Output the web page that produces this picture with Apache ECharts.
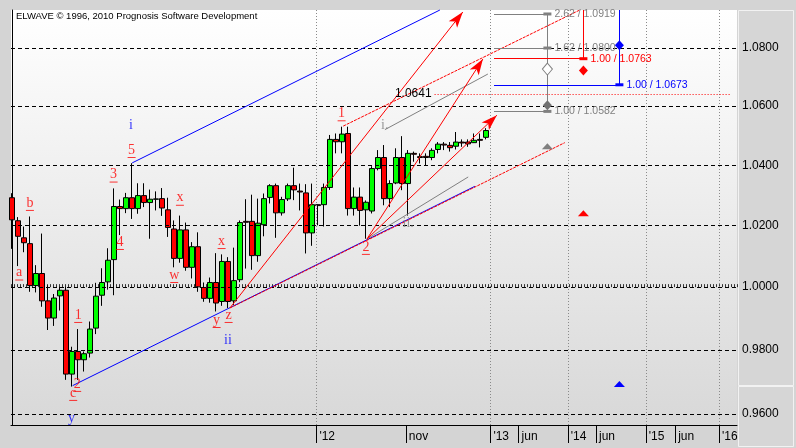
<!DOCTYPE html>
<html><head><meta charset="utf-8">
<script src="https://cdn.jsdelivr.net/npm/echarts@6/dist/echarts.min.js"></script>
<style>html,body{margin:0;padding:0;background:#d4d4d4}#c{width:796px;height:448px}</style>
</head><body><div id="c"></div>
<script>
// ---------- DATA ----------
const candleOpen  = [1.0292,1.0216,1.0160,1.0141,1.0005,1.0044,0.9956,0.9901,0.9972,0.9990,0.9724,0.9795,0.9769,0.9790,0.9869,0.9974,1.0017,1.0089,1.0263,1.0256,1.0292,1.0256,1.0299,1.0276,1.0287,1.0289,1.0252,1.0189,1.0093,1.0186,1.0064,1.0131,0.9999,0.9964,1.0015,0.9954,1.0083,0.9956,1.0024,1.0214,1.0214,1.0102,1.0203,1.0293,1.0332,1.0242,1.0288,1.0332,1.0314,1.0308,1.0176,1.0269,1.0269,1.0326,1.0487,1.0479,1.0507,1.0256,1.0294,1.0252,1.0248,1.0389,1.0426,1.0289,1.0341,1.0426,1.0339,1.0440,1.0429,1.0430,1.0426,1.0453,1.0471,1.0467,1.0464,1.0478,1.0478,1.0476,1.0487,1.0494];
const candleHigh  = [1.0307,1.0228,1.0197,1.0230,1.0071,1.0174,1.0006,0.9978,1.0001,1.0001,0.9810,0.9866,0.9795,0.9890,1.0014,1.0061,1.0126,1.0323,1.0286,1.0308,1.0407,1.0340,1.0340,1.0319,1.0313,1.0324,1.0292,1.0217,1.0233,1.0210,1.0146,1.0178,1.0015,1.0031,1.0110,1.0106,1.0097,1.0128,1.0217,1.0287,1.0302,1.0289,1.0306,1.0337,1.0339,1.0295,1.0339,1.0392,1.0339,1.0337,1.0339,1.0270,1.0339,1.0502,1.0507,1.0530,1.0530,1.0326,1.0326,1.0283,1.0397,1.0451,1.0468,1.0350,1.0457,1.0498,1.0451,1.0446,1.0440,1.0440,1.0457,1.0478,1.0478,1.0478,1.0512,1.0487,1.0487,1.0507,1.0507,1.0525];
const candleLow   = [1.0124,1.0068,1.0113,0.9985,0.9983,0.9937,0.9863,0.9876,0.9925,0.9706,0.9685,0.9706,0.9732,0.9776,0.9850,0.9940,0.9992,0.9974,1.0169,1.0241,1.0222,1.0239,1.0261,1.0157,1.0250,1.0232,1.0163,1.0064,1.0079,1.0053,1.0028,0.9985,0.9953,0.9950,0.9922,0.9940,0.9933,0.9943,1.0016,1.0060,1.0056,1.0082,1.0165,1.0273,1.0160,1.0233,1.0281,1.0284,1.0250,1.0109,1.0134,1.0201,1.0197,1.0318,1.0440,1.0440,1.0233,1.0233,1.0200,1.0157,1.0240,1.0383,1.0267,1.0261,1.0337,1.0317,1.0233,1.0412,1.0406,1.0400,1.0417,1.0440,1.0451,1.0446,1.0453,1.0462,1.0462,1.0475,1.0460,1.0487];
const candleClose = [1.0219,1.0165,1.0144,1.0005,1.0044,0.9956,0.9901,0.9965,0.9990,0.9724,0.9795,0.9769,0.9788,0.9866,0.9971,1.0015,1.0087,1.0263,1.0256,1.0292,1.0256,1.0299,1.0276,1.0287,1.0288,1.0258,1.0194,1.0093,1.0186,1.0064,1.0131,1.0001,0.9964,1.0015,0.9949,1.0083,0.9954,1.0021,1.0210,1.0211,1.0102,1.0208,1.0289,1.0332,1.0242,1.0286,1.0332,1.0318,1.0311,1.0176,1.0269,1.0266,1.0326,1.0487,1.0479,1.0505,1.0256,1.0294,1.0250,1.0277,1.0389,1.0426,1.0289,1.0339,1.0426,1.0339,1.0440,1.0437,1.0426,1.0426,1.0450,1.0471,1.0468,1.0459,1.0478,1.0475,1.0472,1.0484,1.0484,1.0517];

const priceTicks = [0.96, 0.98, 1.00, 1.02, 1.04, 1.06, 1.08];
const xLabelPos  = [50.7, 65.6, 79.7, 84.4, 92.6, 97.3, 105.6, 110.5, 117.8];
const xLabelText = ["'12", "nov", "'13", "jun", "'14", "jun", "'15", "jun", "'16"];
const yearPos    = [50.7, 79.7, 92.6, 105.6, 117.8];

// trend lines [[x1, p1], [x2, p2]] (x = bar index)
const blueUpper  = [[20, 1.0408], [71.28, 1.0933]];
const blueLower  = [[10.07, 0.9688], [77.12, 1.0330]];
const redLower   = [[36.28, 0.9933], [92.1, 1.0476]];
const redUpper   = [[55.17, 1.0532], [94.6, 1.0933]];
const grayUpper  = [[62.12, 1.0520], [79.28, 1.0710]];
const grayLower  = [[59.12, 1.0156], [76.0, 1.0361]];
const redArrow1  = [[36.28, 0.9933], [75.1, 1.0926]];
const redArrow2  = [[59.12, 1.0156], [78.45, 1.0762]];
const redArrow3  = [[59.12, 1.0156], [80.78, 1.0569]];

// projection targets
const targetStartX = 80.3;
const grayTargetX = 89.2, redTargetX = 95.2, blueTargetX = 101.2;
const grayRatios = ["2.62", "1.62", "1.00"];
const grayLevels = [1.0919, 1.0800, 1.0582];
const redLevel = 1.0763, blueLevel = 1.0673;
const grayDiamonds = [1.0727, 1.0603];
const redDiamond = 1.0722, blueDiamond = 1.0810;
const triangles = [[89.2, 1.0464, '#808080'], [95.2, 1.0241, '#ff0000'], [101.2, 0.9693, '#0000ff']];
const dottedLevel = 1.0641, dottedFrom = 70.4, dottedTo = 119.6;
const topPrice = 1.0933, bottomPrice = 0.9566;

// wave labels: [x, price(underline), text]
const redWaves = [[1.17,1.0023,'a'],[2.95,1.0250,'b'],[10.17,0.9642,'c'],[11,0.9887,'1'],[10.83,0.9670,'2'],
  [16.9,1.0344,'3'],[17.95,1.0122,'4'],[19.9,1.0426,'5'],[27.95,1.0267,'x'],[27,1.0015,'w'],
  [34.9,1.0125,'x'],[34.07,0.9871,'y'],[36.07,0.9887,'z'],[54.9,1.0550,'1'],[58.95,1.0106,'2']];
const blueWaves = [[19.8,1.0536,'i'],[35.95,0.9829,'ii'],[9.9,0.9587,'y']];
const grayWaves = [[62.1,1.0536,'i.'],[66,1.0206,'ii.']];

// ---------- CHART ----------
const L = Math.log;
const chart = echarts.init(document.getElementById('c'), null, {renderer:'canvas'});
const candles = candleOpen.map((o,i)=>[i, L(o), L(candleClose[i]), L(candleLow[i]), L(candleHigh[i])]);

function seg(s, color, opt) {
  opt = opt || {};
  return [
    {coord:[s[0][0], L(s[0][1])], symbol:'none', lineStyle:{color:color, width:1, type: opt.type || 'solid'}},
    {coord:[s[1][0], L(s[1][1])], symbol: opt.arrow ? 'arrow' : 'none', symbolSize: opt.arrow ? [8,16] : 0}
  ];
}
const lineData = [
  seg(blueUpper,'#0000ff'), seg(blueLower,'#0000ff'),
  seg(redLower,'#ff0000',{type:[3,1]}), seg(redUpper,'#ff0000',{type:[3,1]}),
  seg(grayUpper,'#808080'), seg(grayLower,'#808080'),
  seg(redArrow1,'#ff0000',{arrow:true}), seg(redArrow2,'#ff0000',{arrow:true}), seg(redArrow3,'#ff0000',{arrow:true})
];
// target lines
const tgt = [];
grayLevels.forEach((p,k)=>{
  tgt.push([{coord:[targetStartX, L(p)], symbol:'none', lineStyle:{color:'#808080',width:1,type:'solid'},
     label:{show:true, position:'end', distance:7, formatter: grayRatios[k]+' / '+p.toFixed(4), color:'#808080', fontSize:10.5, fontFamily:'Liberation Sans'}},
    {coord:[grayTargetX, L(p)], symbol:'none'}]);
});
tgt.push([{coord:[grayTargetX, L(grayLevels[0])], symbol:'none', lineStyle:{color:'#808080',width:1,type:'solid'}},{coord:[grayTargetX, L(grayDiamonds[1])], symbol:'none'}]);
tgt.push([{coord:[targetStartX, L(redLevel)], symbol:'none', lineStyle:{color:'#ff0000',width:1,type:'solid'},
     label:{show:true, position:'end', distance:7, formatter:'1.00 / '+redLevel.toFixed(4), color:'#ff0000', fontSize:10.5, fontFamily:'Liberation Sans'}},
    {coord:[redTargetX, L(redLevel)], symbol:'none'}]);
tgt.push([{coord:[redTargetX, L(topPrice)], symbol:'none', lineStyle:{color:'#ff0000',width:1,type:'solid'}},{coord:[redTargetX, L(redLevel)], symbol:'none'}]);
tgt.push([{coord:[targetStartX, L(blueLevel)], symbol:'none', lineStyle:{color:'#0000ff',width:1,type:'solid'},
     label:{show:true, position:'end', distance:7, formatter:'1.00 / '+blueLevel.toFixed(4), color:'#0000ff', fontSize:10.5, fontFamily:'Liberation Sans'}},
    {coord:[blueTargetX, L(blueLevel)], symbol:'none'}]);
tgt.push([{coord:[blueTargetX, L(topPrice)], symbol:'none', lineStyle:{color:'#0000ff',width:1,type:'solid'}},{coord:[blueTargetX, L(blueLevel)], symbol:'none'}]);
tgt.push([{coord:[dottedFrom, L(dottedLevel)], symbol:'none', lineStyle:{color:'#ff0000',width:1,type:[1,2]},
     label:{show:true, position:'start', distance:3, formatter: dottedLevel.toFixed(4), color:'#000', fontSize:12, fontFamily:'Liberation Sans'}},
    {coord:[dottedTo, L(dottedLevel)], symbol:'none'}]);

const points = [];
grayLevels.forEach(p=>points.push({coord:[grayTargetX, L(p)], symbol:'rect', symbolSize:[8,3], itemStyle:{color:'#808080'}}));
points.push({coord:[redTargetX, L(redLevel)], symbol:'rect', symbolSize:[8,3], itemStyle:{color:'#ff0000'}});
points.push({coord:[blueTargetX, L(blueLevel)], symbol:'rect', symbolSize:[8,3], itemStyle:{color:'#0000ff'}});
points.push({coord:[grayTargetX, L(grayDiamonds[0])], symbol:'diamond', symbolSize:[10,12], itemStyle:{color:'#ffffff', borderColor:'#808080', borderWidth:1}});
points.push({coord:[grayTargetX, L(grayDiamonds[1])], symbol:'diamond', symbolSize:[9,10], itemStyle:{color:'#707070'}});
points.push({coord:[redTargetX, L(redDiamond)], symbol:'diamond', symbolSize:[9,10], itemStyle:{color:'#ff0000'}});
points.push({coord:[blueTargetX, L(blueDiamond)], symbol:'diamond', symbolSize:[9,10], itemStyle:{color:'#0000ff'}});
triangles.forEach(t=>points.push({coord:[t[0], L(t[1])], symbol:'triangle', symbolSize:[11,6], itemStyle:{color:t[2]}}));

function waveSeries(arr, color, underline) {
  return {
    type:'scatter', z:6, silent:true,
    symbol:'rect', symbolSize: underline ? [8,1] : 1,
    itemStyle:{color: underline ? color : 'rgba(0,0,0,0)'},
    label:{show:true, position: underline ? 'top' : 'inside', distance:0, color:color,
      fontFamily:'Liberation Serif', fontSize:14, formatter: p => p.data.t},
    data: arr.map(a=>({value:[a[0], L(a[1])], t:a[2]}))
  };
}

const option = {
  animation:false,
  backgroundColor:'#d4d4d4',
  title:{text:'ELWAVE \u00a9 1996, 2010 Prognosis Software Development', left:11, top:6,
    textStyle:{fontSize:9.5, fontWeight:'normal', fontFamily:'Liberation Sans', color:'#000'}},
  graphic:[
    {type:'rect', z:-5, shape:{x:738.5, y:10.5, width:55, height:375}, style:{fill:'#d6d6d6', stroke:'#f2f2f2', lineWidth:1}},
    {type:'rect', z:-5, shape:{x:738.5, y:386.5, width:55, height:60}, style:{fill:'#d6d6d6', stroke:'#f2f2f2', lineWidth:1}}
  ],
  grid:{left:11, right:59, top:10, bottom:23, show:true, borderWidth:0,
    backgroundColor: new echarts.graphic.LinearGradient(0,0,0,1,[{offset:0,color:'#ffffff'},{offset:1,color:'#d8d8d8'}])},
  xAxis:[
    {type:'value', min:-0.2, max:120.8, splitLine:{show:false},
     axisLine:{show:true, onZero:false, lineStyle:{color:'#000', width:1}},
     axisTick:{show:true, customValues:xLabelPos, length:18, lineStyle:{color:'#000'}},
     axisLabel:{show:true, customValues:xLabelPos, align:'left', margin:6, padding:[0,0,0,3],
       color:'#000', fontSize:12, fontFamily:'Liberation Sans Narrow, Liberation Sans',
       formatter: v => { let b=0; xLabelPos.forEach((p,k)=>{ if (Math.abs(p-v)<Math.abs(xLabelPos[b]-v)) b=k; }); return xLabelText[b]; }}},
    {type:'value', min:-0.2, max:120.8, interval:0.5, offset:6, splitLine:{show:false},
     axisLine:{show:false}, axisLabel:{show:false}, axisTick:{show:true, length:3, lineStyle:{color:'#333'}}}
  ],
  yAxis:[
    {type:'value', position:'right', min:L(bottomPrice), max:L(topPrice), scale:true,
     splitLine:{show:false}, axisLine:{show:false}, axisTick:{show:false},
     axisLabel:{show:true, customValues: priceTicks.map(L), margin:5, color:'#000', fontSize:12, fontFamily:'Liberation Sans',
       formatter: v => Math.exp(v).toFixed(4)}},
    {type:'value', position:'left', min:L(bottomPrice), max:L(topPrice), scale:true,
     splitLine:{show:false}, axisTick:{show:false}, axisLabel:{show:false},
     axisLine:{show:true, lineStyle:{color:'#000', width:1}}}
  ],
  series:[
    {type:'line', data:[], z:1, silent:true,
     markLine:{silent:true, symbol:'none', animation:false, precision:8, label:{show:false},
       data:[
         ...priceTicks.map(p=>({yAxis:L(p), lineStyle:{color:'#000', type:[4,3], width:1}})),
         ...yearPos.map(x=>({xAxis:x, lineStyle:{color:'#8a8a8a', type:[1,2], width:1}}))
       ]}},
    {type:'candlestick', z:2, silent:true, barWidth:5, encode:{x:0, y:[1,2,3,4]},
     itemStyle:{color:'#00ff00', color0:'#ff0000', borderColor:'#000', borderColor0:'#000', borderColorDoji:'#000', borderWidth:1},
     data: candles},
    {type:'line', data:[], z:4, silent:true,
     markLine:{silent:true, symbol:'none', animation:false, precision:8, label:{show:false}, data:[...lineData, ...tgt]},
     markPoint:{silent:true, animation:false, label:{show:false}, data:points}},
    waveSeries(redWaves, '#ff0000', true),
    waveSeries(blueWaves, '#0000ff', false),
    waveSeries(grayWaves, '#808080', false)
  ]
};
chart.setOption(option);
</script>
</body></html>
